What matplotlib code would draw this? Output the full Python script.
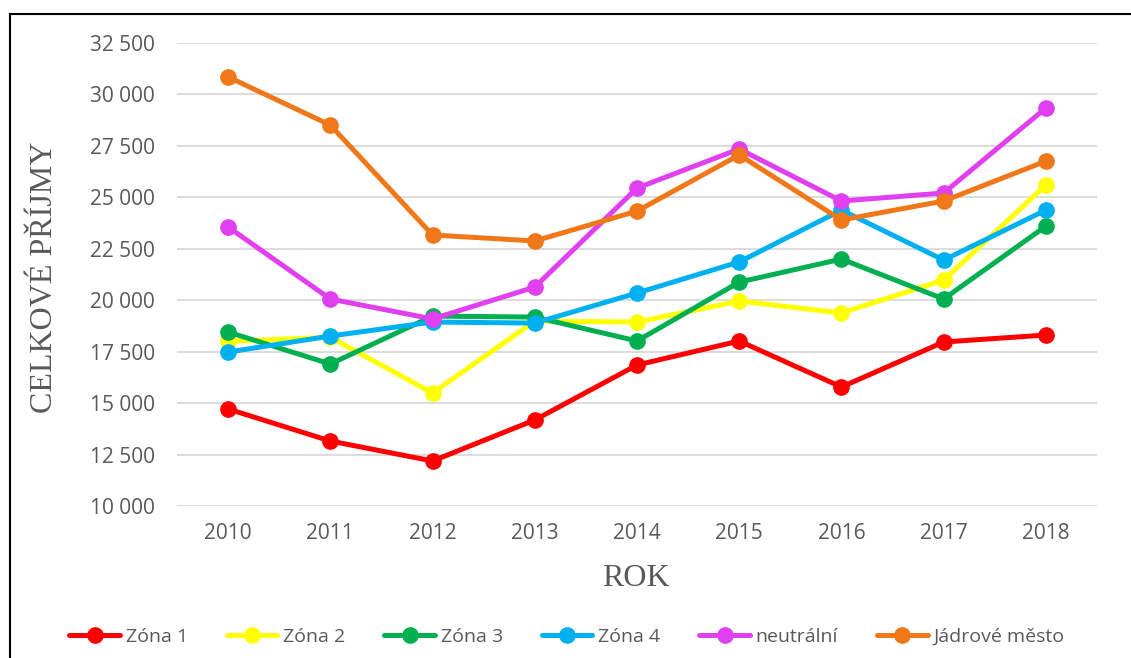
import matplotlib
matplotlib.use("Agg")
import matplotlib.pyplot as plt
from matplotlib.patches import Rectangle
from matplotlib.ticker import FuncFormatter, MultipleLocator

years = [2010, 2011, 2012, 2013, 2014, 2015, 2016, 2017, 2018]
zona1 = [14714, 13158, 12187, 14180, 16851, 18018, 15782, 17970, 18309]
zona2 = [18000, 18200, 15490, 18990, 18940, 19960, 19380, 20980, 25600]
zona3 = [18455, 16900, 19230, 19180, 18020, 20880, 22000, 20060, 23600]
zona4 = [17480, 18260, 18940, 18890, 20350, 21860, 24380, 21950, 24380]
neutralni = [23560, 20060, 19090, 20640, 25450, 27350, 24820, 25210, 29340]
jadrove = [30850, 28510, 23170, 22880, 24330, 27060, 23900, 24820, 26760]

series_names = ["Zóna 1", "Zóna 2", "Zóna 3", "Zóna 4", "neutrální", "Jádrové město"]
series_values = [zona1, zona2, zona3, zona4, neutralni, jadrove]
colors = ["#FF0000", "#FFFF00", "#00B050", "#00B0F0", "#E040F0", "#F07818"]

W, H = 1131, 658
fig = plt.figure(figsize=(W / 100, H / 100), dpi=100)
ax = fig.add_axes([177 / W, 1 - 506 / H, (1097 - 177) / W, (506 - 43) / H])

x = list(range(len(years)))
for name, vals, c in zip(series_names, series_values, colors):
    ax.plot(x, vals, color=c, lw=3.6, marker="o", ms=11, label=name,
            solid_joinstyle="round", solid_capstyle="round")

ax.set_xlim(-0.5, len(years) - 0.5)
ax.set_ylim(10000, 32500)
ax.yaxis.set_major_locator(MultipleLocator(2500))
ax.yaxis.set_major_formatter(FuncFormatter(lambda v, p: f"{int(v):,}".replace(",", " ")))
ax.set_xticks(x)
ax.set_xticklabels([str(y) for y in years])
ax.grid(axis="y", color="#D9D9D9", lw=1.3)
ax.set_axisbelow(True)
for s in ax.spines.values():
    s.set_visible(False)
ax.tick_params(length=0, labelsize=15, labelcolor="#595959")
for lbl in ax.get_xticklabels() + ax.get_yticklabels():
    lbl.set_fontfamily("Open Sans")
ax.tick_params(axis="x", pad=12)
ax.tick_params(axis="y", pad=16)

fig.text(636 / W, 1 - 578 / H, "ROK", ha="center", va="center",
         family="Liberation Serif", fontsize=23, color="#595959")
fig.text(45 / W, 1 - 277 / H, "CELKOVÉ PŘÍJMY", ha="center", va="center",
         rotation=90, family="Liberation Serif", fontsize=23, color="#595959")

leg = fig.legend(loc="center", bbox_to_anchor=(567 / W, 1 - 637 / H), ncol=6,
                 frameon=False, prop={"family": "Open Sans", "size": 14},
                 handlelength=2.6, handletextpad=0.3, columnspacing=2.0,
                 labelcolor="#595959")

fig.add_artist(Rectangle((10 / W, -0.05), 1.2, 1 - 14 / H + 0.05,
                         transform=fig.transFigure, fill=False,
                         edgecolor="black", lw=1.5))

fig.savefig("out.png", dpi=100)
